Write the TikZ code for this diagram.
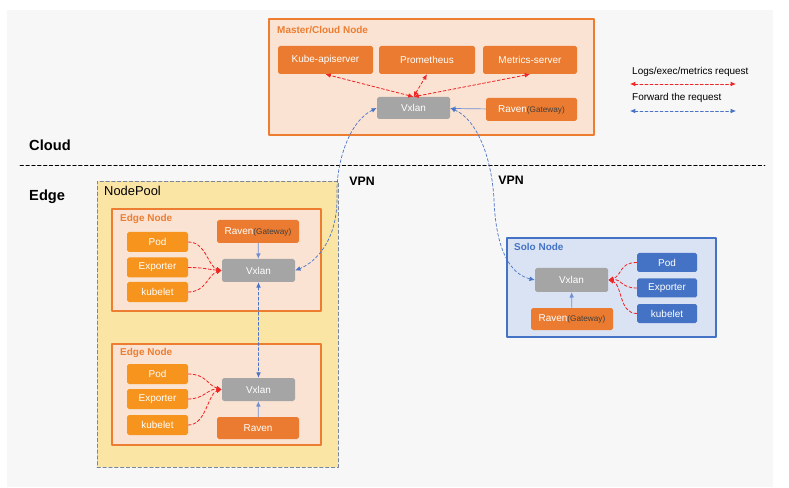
\documentclass[tikz,border=0pt]{standalone}
\usepackage{fontspec}
\setmainfont{Liberation Sans}
\usetikzlibrary{arrows.meta,positioning,calc}
\definecolor{orgline}{HTML}{ED7D31}
\definecolor{orgfill}{HTML}{FAE3D3}
\definecolor{orgbox}{HTML}{EB7B30}
\definecolor{orgpod}{HTML}{F7941D}
\definecolor{vxgray}{HTML}{A5A5A5}
\definecolor{poolfill}{HTML}{FBE5A4}
\definecolor{poolline}{HTML}{7A8699}
\definecolor{soloblue}{HTML}{4472C4}
\definecolor{solofill}{HTML}{DAE3F3}
\definecolor{vpnblue}{HTML}{4A74C8}
\definecolor{reqred}{HTML}{F02525}
\definecolor{bgray}{HTML}{F7F7F7}
\tikzset{
  sz/.style 2 args={minimum width={#1*0.03cm},minimum height={#2*0.03cm}},
  comp/.style={rectangle,rounded corners=1.5pt,inner sep=0pt,text=white,
               font=\fontsize{8.5}{10}\selectfont},
  svc/.style={comp,fill=orgbox}, pod/.style={comp,fill=orgpod},
  bpod/.style={comp,fill=soloblue}, vx/.style={comp,fill=vxgray},
  host/.style={rectangle,draw=orgline,line width=2pt,fill=orgfill,inner sep=0pt},
  title/.style={anchor=west,inner sep=0pt,font=\fontsize{8.5}{10}\selectfont\bfseries},
  zone/.style={anchor=west,inner sep=0pt,font=\fontsize{12.5}{14}\selectfont\bfseries},
  req/.style={reqred,line width=0.7pt,dash pattern=on 2.5pt off 1.8pt,
              -{Latex[length=4.5pt,width=4pt]}},
  fwd/.style={vpnblue,line width=0.6pt,dash pattern=on 2.5pt off 1.8pt,
              -{Latex[length=4.5pt,width=4pt]}},
  feed/.style={vpnblue!80,line width=0.6pt,-{Latex[length=4.5pt,width=4pt]}},
  every picture/.style={line cap=round,line join=round}}
\newcommand{\gw}{Raven{\fontsize{7}{8}\selectfont\color{black!75}(Gateway)}}

\begin{document}
\begin{tikzpicture}[x=0.03cm,y=-0.03cm]
  \useasboundingbox (0,0) rectangle (789,488);
  \fill[bgray] (7,10) rectangle (773,487);
  % cloud side
  \node[host,sz={325}{116}] (master) at (431.5,77) {};
  \node[title,text=orgline] (mtitle) at (277,30) {Master/Cloud Node};
  \node[svc,sz={95}{28}] (kube) at (325.5,60) {Kube-apiserver};
  \node[svc,sz={96}{28}] (prom) at (427,60) {Prometheus};
  \node[svc,sz={94}{28}] (metrics) at (530,60) {Metrics-server};
  \node[vx,sz={73}{22}] (mvx) at (413.5,108) {Vxlan};
  \node[svc,sz={91}{23}] (mraven) at (531.5,109.5) {\gw};
  \node[zone] (cloud) at (29,145) {Cloud}; \node[zone] (edge) at (29,197) {Edge};
  \coordinate (sepl) at (20,165); \coordinate (sepr) at (765,165);
  \draw[line width=0.6pt,dash pattern=on 3pt off 2pt] (sepl) -- (sepr);
  % legend
  \node[anchor=west,inner sep=0pt,font=\fontsize{8.5}{10}\selectfont] (lg1) at (632,72) {Logs/exec/metrics request};
  \node[anchor=west,inner sep=0pt,font=\fontsize{8.5}{10}\selectfont] (lg2) at (632,98) {Forward the request};
  \coordinate (lg1a) at (630,84); \coordinate (lg1b) at (736,84);
  \coordinate (lg2a) at (630,111); \coordinate (lg2b) at (736,111);
  \draw[req,{Latex[length=4.5pt,width=4pt]}-{Latex[length=4.5pt,width=4pt]}] (lg1a) -- (lg1b);
  \draw[fwd,{Latex[length=4.5pt,width=4pt]}-{Latex[length=4.5pt,width=4pt]}] (lg2a) -- (lg2b);
  % node pool
  \node[rectangle,draw=poolline,fill=poolfill,line width=0.6pt,dash pattern=on 3pt off 2pt,
        inner sep=0pt,sz={241}{286}] (pool) at (217.5,324) {};
  \node[anchor=west,inner sep=0pt,font=\fontsize{11}{13}\selectfont] (ptitle) at (104,191) {NodePool};
  \node[host,sz={209}{102}] (edge1) at (216.5,260) {};
  \node[title,text=orgline] (e1title) at (120,219) {Edge Node};
  \node[pod,sz={61}{20}] (e1pod) at (157.5,242) {Pod};
  \node[pod,sz={61}{20}] (e1exp) at (157.5,267.5) {Exporter};
  \node[pod,sz={61}{20}] (e1kub) at (157.5,292) {kubelet};
  \node[svc,sz={82}{23}] (e1raven) at (258,231.5) {\gw};
  \node[vx,sz={73}{23}] (e1vx) at (258.5,270.5) {Vxlan};
  \node[host,sz={209}{101}] (edge2) at (216.5,394.5) {};
  \node[title,text=orgline] (e2title) at (120,353) {Edge Node};
  \node[pod,sz={61}{20}] (e2pod) at (157.5,374) {Pod};
  \node[pod,sz={61}{20}] (e2exp) at (157.5,399) {Exporter};
  \node[pod,sz={61}{20}] (e2kub) at (157.5,425) {kubelet};
  \node[vx,sz={73}{23}] (e2vx) at (258.5,389.5) {Vxlan};
  \node[svc,sz={82}{22}] (e2raven) at (258,428) {Raven};
  % solo node
  \node[rectangle,draw=soloblue,line width=2pt,fill=solofill,inner sep=0pt,sz={209}{99}] (solo) at (611.5,287.5) {};
  \node[title,text=soloblue] (stitle) at (514,247) {Solo Node};
  \node[vx,sz={73}{24}] (svx) at (571.5,280) {Vxlan};
  \node[svc,sz={82}{22}] (sraven) at (572,319) {\gw};
  \node[bpod,sz={60}{19}] (spod) at (667,262.5) {Pod};
  \node[bpod,sz={60}{19}] (sexp) at (667,288) {Exporter};
  \node[bpod,sz={60}{19}] (skub) at (667,313.5) {kubelet};
  % requests
  \foreach \t in {kube,prom,metrics}
    \draw[req,{Latex[length=4.5pt,width=4pt]}-{Latex[length=4.5pt,width=4pt]}] (mvx.north) -- (\t.south);
  \foreach \p in {e1,e2} {
    \draw[req] (\p pod.east) .. controls +(18,0) and +(-14,-4) .. (\p vx.west);
    \draw[req] (\p exp.east) .. controls +(16,0) and +(-14,-1) .. (\p vx.west);
    \draw[req] (\p kub.east) .. controls +(18,0) and +(-14,4) .. (\p vx.west);
    \draw[feed] (\p raven) -- (\p vx);}
  \draw[req] (spod.west) .. controls +(-18,0) and +(14,-4) .. (svx.east);
  \draw[req] (sexp.west) .. controls +(-16,0) and +(14,-1) .. (svx.east);
  \draw[req] (skub.west) .. controls +(-18,0) and +(14,4) .. (svx.east);
  \draw[feed] (sraven) -- (svx); \draw[feed] (mraven) -- (mvx);
  % forwarding
  \draw[fwd,{Latex[length=4.5pt,width=4pt]}-{Latex[length=4.5pt,width=4pt]}] (e1vx) -- (e2vx);
  \draw[fwd,{Latex[length=4.5pt,width=4pt]}-{Latex[length=4.5pt,width=4pt]}] (mvx.west)
    .. controls (348,122) and (336,165) .. (337,195) .. controls (338,240) and (316,262) .. (e1vx.east);
  \draw[fwd,{Latex[length=4.5pt,width=4pt]}-{Latex[length=4.5pt,width=4pt]}] (mvx.east)
    .. controls (478,120) and (492,160) .. (494,200) .. controls (496,250) and (510,274) .. (svx.west);
  \node[font=\fontsize{10.5}{12}\selectfont\bfseries] (vpn1) at (362,181) {VPN};
  \node[font=\fontsize{10.5}{12}\selectfont\bfseries] (vpn2) at (511,180) {VPN};
\end{tikzpicture}
\end{document}
